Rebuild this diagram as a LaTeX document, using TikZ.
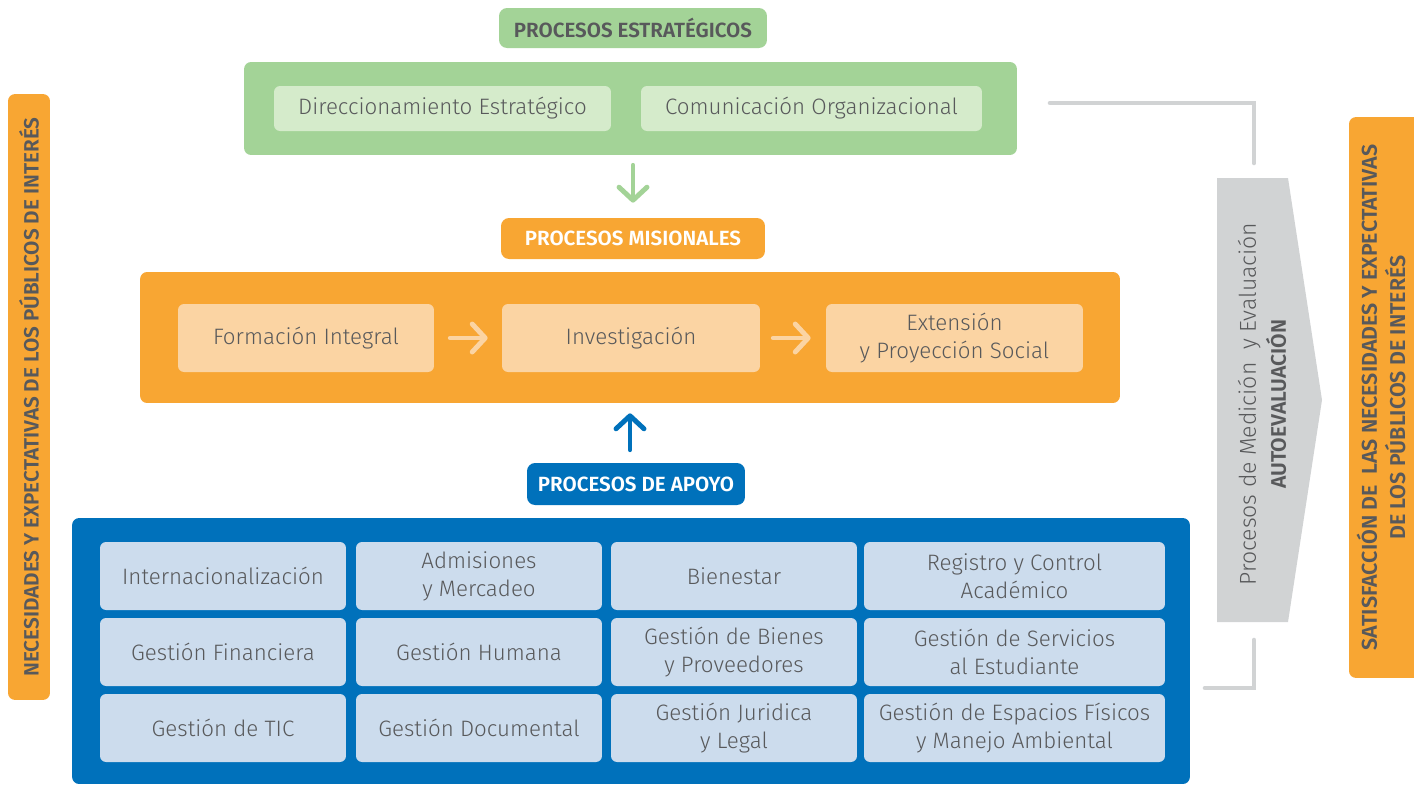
\documentclass[tikz,border=0pt]{standalone}
\usepackage{fontspec}
\setmainfont{Fira Sans}[UprightFont=* Light, BoldFont=* SemiBold]
\usetikzlibrary{arrows.meta,positioning,calc}
\definecolor{verde}{HTML}{A3D397}
\definecolor{verdeclaro}{HTML}{D5EBCB}
\definecolor{naranja}{HTML}{F8A633}
\definecolor{naranjaclaro}{HTML}{FBD4A3}
\definecolor{azul}{HTML}{0071BB}
\definecolor{azulclaro}{HTML}{CCDCED}
\definecolor{gris}{HTML}{D1D3D4}
\definecolor{texto}{HTML}{58595B}

\begin{document}
\begin{tikzpicture}[x=0.02cm, y=-0.02cm,
    etiqueta/.style={rounded corners=0.16cm, inner sep=0pt, font=\fontsize{11.7}{13}\selectfont\bfseries},
    marco/.style={rounded corners=0.14cm, inner sep=0pt},
    caja/.style={rounded corners=0.12cm, inner sep=0pt, align=center, text=texto, font=\fontsize{12.7}{16}\selectfont},
    flecha/.style={line width=2.8pt, line cap=round, -{Straight Barb[length=0.26cm, width=0.56cm, line cap=round, line join=round]}},
    corchete/.style={gris, line width=2.6pt, line cap=round}]
    \useasboundingbox (0,0) rectangle (1414,785);

    % Estrategicos
    \node[etiqueta, fill=verde, text=texto, minimum width=5.36cm, minimum height=0.8cm] (lblestr) at (633,28) {PROCESOS ESTRATÉGICOS};
    \node[marco, fill=verde, minimum width=15.46cm, minimum height=1.86cm] (estr) at (630.5,108.5) {};
    \node[caja, fill=verdeclaro, minimum width=6.74cm, minimum height=0.9cm] (direc) at (442.5,108.5) {Direccionamiento Estratégico};
    \node[caja, fill=verdeclaro, minimum width=6.82cm, minimum height=0.9cm] (comun) at (811.5,108.5) {Comunicación Organizacional};

    % Misionales
    \node[etiqueta, fill=naranja, text=white, minimum width=5.28cm, minimum height=0.82cm] (lblmis) at (633,238.5) {PROCESOS MISIONALES};
    \draw[flecha, verde, shorten <=0.2cm, shorten >=0.3cm] (estr.south -| lblmis.north) -- (lblmis.north);
    \node[marco, fill=naranja, minimum width=19.6cm, minimum height=2.62cm] (mis) at (630,337.5) {};
    \node[caja, fill=naranjaclaro, minimum width=5.12cm, minimum height=1.36cm] (form) at (306,338) {Formación Integral};
    \node[caja, fill=naranjaclaro, minimum width=5.16cm, minimum height=1.36cm] (inv) at (631,338) {Investigación};
    \node[caja, fill=naranjaclaro, minimum width=5.14cm, minimum height=1.36cm] (ext) at (954.5,338) {Extensión\\y Proyección Social};
    \draw[flecha, naranjaclaro, shorten <=0.32cm, shorten >=0.28cm] (form) -- (inv);
    \draw[flecha, naranjaclaro, shorten <=0.26cm, shorten >=0.3cm] (inv) -- (ext);

    % Apoyo
    \node[etiqueta, fill=azul, text=white, minimum width=4.36cm, minimum height=0.84cm] (lblapo) at (636,484) {PROCESOS DE APOYO};
    \draw[flecha, azul, shorten <=0.26cm, shorten >=0.2cm] (lblapo.north -| mis.south) -- (mis.south);
    \node[marco, fill=azul, minimum width=22.36cm, minimum height=5.32cm] (apo) at (631,651) {};
    \node[caja, fill=azulclaro, minimum width=4.92cm, minimum height=1.36cm] (a11) at (223,576) {Internacionalización};
    \node[caja, fill=azulclaro, minimum width=4.92cm, minimum height=1.36cm] (a12) at (479,576) {Admisiones\\y Mercadeo};
    \node[caja, fill=azulclaro, minimum width=4.92cm, minimum height=1.36cm] (a13) at (734,576) {Bienestar};
    \node[caja, fill=azulclaro, minimum width=6.02cm, minimum height=1.36cm] (a14) at (1014.5,576) {Registro y Control\\Académico};
    \node[caja, fill=azulclaro, minimum width=4.92cm, minimum height=1.36cm] (a21) at (223,652) {Gestión Financiera};
    \node[caja, fill=azulclaro, minimum width=4.92cm, minimum height=1.36cm] (a22) at (479,652) {Gestión Humana};
    \node[caja, fill=azulclaro, minimum width=4.92cm, minimum height=1.36cm] (a23) at (734,652) {Gestión de Bienes\\y Proveedores};
    \node[caja, fill=azulclaro, minimum width=6.02cm, minimum height=1.36cm] (a24) at (1014.5,652) {Gestión de Servicios\\al Estudiante};
    \node[caja, fill=azulclaro, minimum width=4.92cm, minimum height=1.36cm] (a31) at (223,728) {Gestión de TIC};
    \node[caja, fill=azulclaro, minimum width=4.92cm, minimum height=1.36cm] (a32) at (479,728) {Gestión Documental};
    \node[caja, fill=azulclaro, minimum width=4.92cm, minimum height=1.36cm] (a33) at (734,728) {Gestión Juridica\\y Legal};
    \node[caja, fill=azulclaro, minimum width=6.02cm, minimum height=1.36cm] (a34) at (1014.5,728) {Gestión de Espacios Físicos\\y Manejo Ambiental};

    % Necesidades
    \node[marco, fill=naranja, minimum width=0.84cm, minimum height=12.12cm] (nec) at (29,397) {};
    \node[rotate=90, text=texto, font=\fontsize{11.8}{13}\selectfont\bfseries] (nectxt) at (nec) {NECESIDADES Y EXPECTATIVAS DE LOS PÚBLICOS DE INTERÉS};

    % Medicion
    \fill[gris] (1217,178) -- (1288,178) -- (1322,400) -- (1288,622) -- (1217,622) -- cycle;
    \node[rotate=90, align=center, text=texto, font=\fontsize{13.1}{17}\selectfont] (med) at (1262,404) {Procesos de Medición\ \ y Evaluación\\{\fontsize{12}{13}\selectfont\bfseries AUTOEVALUACIÓN}};
    \draw[corchete] (1050,103) -| (1254,163);
    \draw[corchete] (1254,640) |- (1205,688);

    % Satisfaccion
    \node[marco, fill=naranja, minimum width=1.7cm, minimum height=11.22cm] (sat) at (1391.5,397.5) {};
    \node[rotate=90, align=center, text=texto, font=\fontsize{12.2}{16}\selectfont\bfseries] (sattxt) at (1381,397.5) {SATISFACCIÓN DE\ \ LAS NECESIDADES Y EXPECTATIVAS\\DE LOS PÚBLICOS DE INTERÉS};
\end{tikzpicture}
\end{document}
